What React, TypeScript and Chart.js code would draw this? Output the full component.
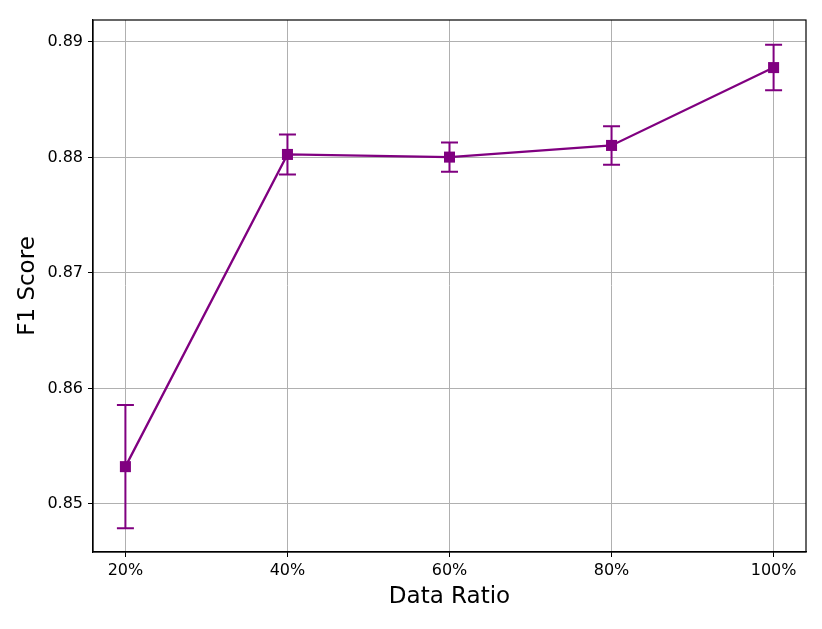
import React, { useEffect, useRef } from "react";
import { Chart, registerables } from "chart.js";

Chart.register(...registerables);

const categories = ["20%", "40%", "60%", "80%", "100%"];
const f1Mean = [0.85323, 0.88026, 0.88003, 0.88104, 0.88778];
const f1Err = [0.00533, 0.00173, 0.00127, 0.00167, 0.00197];
const yTicks = [0.85, 0.86, 0.87, 0.88, 0.89];

const PURPLE = "#800080";
const FONT = "'DejaVu Sans', sans-serif";

const errorBarPlugin = {
  id: "errorBars",
  afterDatasetsDraw(chart: any) {
    const { ctx, scales } = chart;
    const xs = scales.x;
    const ys = scales.y;
    ctx.save();
    ctx.strokeStyle = PURPLE;
    ctx.lineWidth = 2;
    const cap = 8.5;
    f1Mean.forEach((m, i) => {
      const x = xs.getPixelForValue(i);
      const yTop = ys.getPixelForValue(m + f1Err[i]);
      const yBot = ys.getPixelForValue(m - f1Err[i]);
      ctx.beginPath();
      ctx.moveTo(x, yTop);
      ctx.lineTo(x, yBot);
      ctx.moveTo(x - cap, yTop);
      ctx.lineTo(x + cap, yTop);
      ctx.moveTo(x - cap, yBot);
      ctx.lineTo(x + cap, yBot);
      ctx.stroke();
    });
    ctx.restore();
  },
};

const framePlugin = {
  id: "frame",
  afterDraw(chart: any) {
    const { ctx, chartArea } = chart;
    ctx.save();
    ctx.strokeStyle = "#000";
    ctx.lineWidth = 1.2;
    ctx.strokeRect(chartArea.left, chartArea.top, chartArea.right - chartArea.left, chartArea.bottom - chartArea.top);
    ctx.restore();
  },
};

export default function App() {
  const ref = useRef<HTMLCanvasElement>(null);
  useEffect(() => {
    document.body.style.margin = "0";
    const chart = new Chart(ref.current!, {
      type: "line",
      data: {
        datasets: [
          {
            data: f1Mean.map((v, i) => ({ x: i, y: v })),
            borderColor: PURPLE,
            backgroundColor: PURPLE,
            borderWidth: 2.3,
            pointStyle: "rect",
            pointRadius: 7.8,
            pointHoverRadius: 7.8,
            pointBorderWidth: 0,
            tension: 0,
          },
        ],
      },
      options: {
        responsive: false,
        animation: false,
        layout: { padding: { top: 20, right: 16, left: 0, bottom: 0 } },
        plugins: { legend: { display: false }, tooltip: { enabled: false } },
        scales: {
          x: {
            type: "linear",
            min: -0.2,
            max: 4.2,
            afterBuildTicks: (s: any) => {
              s.ticks = categories.map((_, i) => ({ value: i }));
            },
            afterFit: (s: any) => {
              s.height = 77;
            },
            ticks: {
              callback: (v: any) => categories[v] ?? "",
              color: "#000",
              font: { family: FONT, size: 16 },
              padding: 4,
              maxRotation: 0,
              autoSkip: false,
            },
            grid: { color: "#b0b0b0", lineWidth: 1, tickColor: "#000", tickLength: 5 },
            border: { display: true, color: "#000", width: 1.2 },
            title: {
              display: true,
              text: "Data Ratio",
              color: "#000",
              font: { family: FONT, size: 23 },
              padding: { top: 2, bottom: 18 },
            },
          },
          y: {
            type: "linear",
            min: 0.84584,
            max: 0.8919,
            afterBuildTicks: (s: any) => {
              s.ticks = yTicks.map((v) => ({ value: v }));
            },
            afterFit: (s: any) => {
              s.width = 93;
            },
            ticks: {
              callback: (v: any) => Number(v).toFixed(2),
              color: "#000",
              font: { family: FONT, size: 16 },
              padding: 5,
            },
            grid: { color: "#b0b0b0", lineWidth: 1, tickColor: "#000", tickLength: 5 },
            border: { display: true, color: "#000", width: 1.2 },
            title: {
              display: true,
              text: "F1 Score",
              color: "#000",
              font: { family: FONT, size: 23 },
              padding: { top: 14, bottom: 4 },
            },
          },
        },
      },
      plugins: [errorBarPlugin, framePlugin],
    } as any);
    return () => chart.destroy();
  }, []);
  return <canvas ref={ref} width={822} height={629} style={{ display: "block" }} />;
}
